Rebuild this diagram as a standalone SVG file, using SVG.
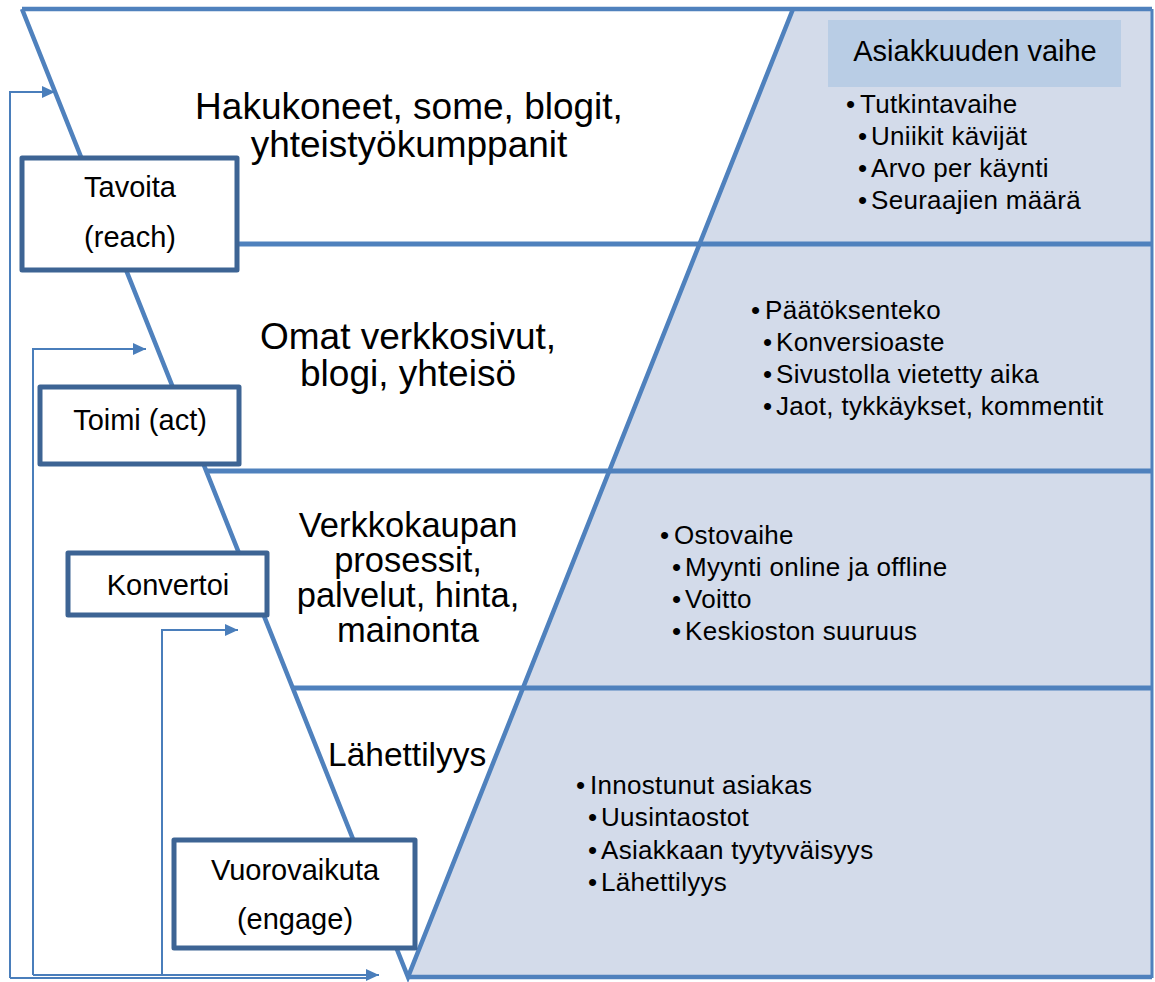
<svg xmlns="http://www.w3.org/2000/svg" width="1155" height="982" viewBox="0 0 1155 982">
<style>
.t{font-family:"Liberation Sans",Arial,sans-serif;fill:#000}
.big{font-size:37px;text-anchor:middle}
.mid{font-size:34.5px;text-anchor:middle}
.box{font-size:29px;text-anchor:middle}
.bul{font-size:26px;letter-spacing:0.3px}
.fl{fill:none;stroke:#4F81BD;stroke-width:4.5}
.hl{fill:none;stroke:#4F81BD;stroke-width:5}
.nb{fill:#fff;stroke:#3D6494;stroke-width:5;stroke-linejoin:round}
.cn{fill:none;stroke:#4A7EBB;stroke-width:2}
</style>
<defs>
<marker id="ah" markerUnits="userSpaceOnUse" markerWidth="13" markerHeight="12" refX="13" refY="6" orient="auto">
<path d="M0,0 L13,6 L0,12 z" fill="#4A7EBB"/>
</marker>
</defs>
<rect width="1155" height="982" fill="#fff"/>
<g id="funnel">
<polygon points="793,9 1152,9 1152,978 408,978" fill="#D3DBEA"/>
<rect x="828" y="20" width="293" height="67" fill="#B9CDE5"/>
<line class="hl" x1="115" y1="244" x2="1152" y2="244"/>
<line class="hl" x1="205" y1="471" x2="1152" y2="471"/>
<line class="hl" x1="292" y1="688" x2="1152" y2="688"/>
<polyline class="fl" points="22,9 408,977 793,9"/>
<line class="fl" x1="22" y1="9" x2="1152" y2="9"/>
<line class="fl" x1="408" y1="977" x2="1152" y2="977"/>
<line x1="1152" y1="9" x2="1152" y2="978" stroke="#4F81BD" stroke-width="3"/>
</g>
<g id="stage-texts">
<text class="t big" x="409" y="119">Hakukoneet, some, blogit,</text>
<text class="t big" x="409" y="157">yhteistyökumppanit</text>
<text class="t big" x="408" y="349">Omat verkkosivut,</text>
<text class="t big" x="408" y="386">blogi, yhteisö</text>
<text class="t mid" x="408" y="537">Verkkokaupan</text>
<text class="t mid" x="408" y="572">prosessit,</text>
<text class="t mid" x="408" y="607">palvelut, hinta,</text>
<text class="t mid" x="408" y="642">mainonta</text>
<text class="t" x="328" y="766" font-size="33.5">Lähettilyys</text>
</g>
<g id="phase-title">
<text class="t" x="975" y="61" font-size="29" text-anchor="middle">Asiakkuuden vaihe</text>
</g>
<g id="list-reach" class="t bul">
<text x="846" y="113">•</text><text x="860" y="113">Tutkintavaihe</text>
<text x="858" y="145">•</text><text x="871" y="145">Uniikit kävijät</text>
<text x="858" y="177">•</text><text x="871" y="177">Arvo per käynti</text>
<text x="858" y="209">•</text><text x="871" y="209">Seuraajien määrä</text>
</g>
<g id="list-act" class="t bul">
<text x="751" y="319">•</text><text x="765" y="319">Päätöksenteko</text>
<text x="763" y="351">•</text><text x="776" y="351">Konversioaste</text>
<text x="763" y="383">•</text><text x="776" y="383">Sivustolla vietetty aika</text>
<text x="763" y="415">•</text><text x="776" y="415">Jaot, tykkäykset, kommentit</text>
</g>
<g id="list-convert" class="t bul">
<text x="660" y="544">•</text><text x="674" y="544">Ostovaihe</text>
<text x="672" y="576">•</text><text x="685" y="576">Myynti online ja offline</text>
<text x="672" y="608">•</text><text x="685" y="608">Voitto</text>
<text x="672" y="640">•</text><text x="685" y="640">Keskioston suuruus</text>
</g>
<g id="list-engage" class="t bul">
<text x="576" y="794">•</text><text x="590" y="794">Innostunut asiakas</text>
<text x="588" y="826">•</text><text x="601" y="826">Uusintaostot</text>
<text x="588" y="859">•</text><text x="601" y="859">Asiakkaan tyytyväisyys</text>
<text x="588" y="891">•</text><text x="601" y="891">Lähettilyys</text>
</g>
<g id="connectors">
<path class="cn" d="M10 978 V92 H55" marker-end="url(#ah)"/>
<path class="cn" d="M33 975 V349 H146" marker-end="url(#ah)"/>
<path class="cn" d="M162 975 V630 H238" marker-end="url(#ah)"/>
<path class="cn" d="M10 978 H368"/>
<path class="cn" d="M33 975 H379" marker-end="url(#ah)"/>
</g>
<g id="node-tavoita">
<rect class="nb" x="22" y="158" width="215" height="112"/>
<text class="t box" x="130" y="197">Tavoita</text>
<text class="t box" x="130" y="247">(reach)</text>
</g>
<g id="node-toimi">
<rect class="nb" x="40" y="387" width="199" height="77"/>
<text class="t box" x="140" y="430">Toimi (act)</text>
</g>
<g id="node-konvertoi">
<rect class="nb" x="68" y="553" width="199" height="62"/>
<text class="t box" x="168" y="595">Konvertoi</text>
</g>
<g id="node-vuorovaikuta">
<rect class="nb" x="174" y="840" width="241" height="108"/>
<text class="t box" x="295" y="880">Vuorovaikuta</text>
<text class="t box" x="295" y="929">(engage)</text>
</g>
</svg>
